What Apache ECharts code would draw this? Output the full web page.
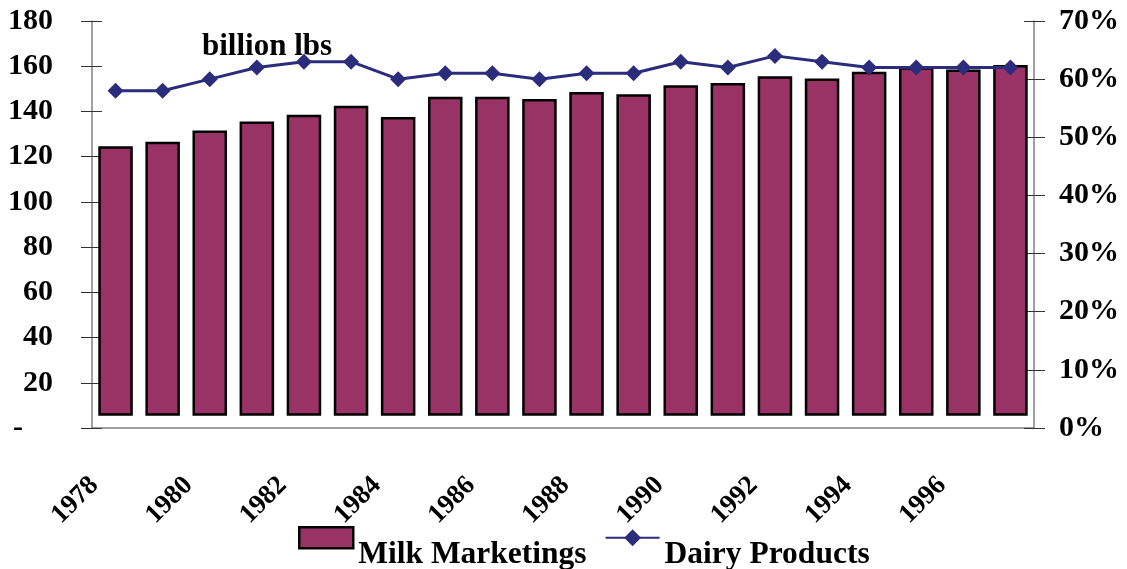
<!DOCTYPE html>
<html>
<head>
<meta charset="utf-8">
<script src="https://cdn.jsdelivr.net/npm/echarts@6/dist/echarts.min.js"></script>
<style>
  html, body { margin: 0; padding: 0; background: #fff; }
  #chart { width: 1127px; height: 569px; }
</style>
</head>
<body>
<div id="chart"></div>
<script>
// Years on the category axis
const years = ['1978','1979','1980','1981','1982','1983','1984','1985','1986','1987',
               '1988','1989','1990','1991','1992','1993','1994','1995','1996','1997'];
// Milk marketings, billion lbs (left axis)
const milkMarketings = [124, 126, 131, 135, 138, 142, 137, 146, 146, 145,
                        148, 147, 151, 152, 155, 154, 157, 159, 158, 160];
// Share used for dairy products, percent (right axis)
const dairyProducts = [58, 58, 60, 62, 63, 63, 60, 61, 61, 60,
                       61, 61, 63, 62, 64, 63, 62, 62, 62, 62];
// Axis tick settings
const leftTicks = { min: 0, max: 180, interval: 20 };
const rightTicks = { min: 0, max: 70, interval: 10 };

const FONT = '"Liberation Serif", "Times New Roman", serif';
const BAR_COLOR = '#993366';
const LINE_COLOR = '#2B2D7C';
const BAR_FLOOR = 6;       // bars rise from just above the category axis

const chart = echarts.init(document.getElementById('chart'), null, { renderer: 'canvas' });

const axisLabelBase = { color: '#000', fontFamily: FONT, fontWeight: 'bold', fontSize: 30 };
const legendText = { fontFamily: FONT, fontWeight: 'bold', fontSize: 31.5, color: '#000' };

chart.setOption({
  animation: false,
  backgroundColor: '#fff',
  title: {
    text: 'billion lbs',
    left: 197, top: 26,
    textStyle: { fontFamily: FONT, fontWeight: 'bold', fontSize: 31, color: '#000' }
  },
  grid: { left: 92, right: 93, top: 21, bottom: 141, containLabel: false },
  legend: {
    left: 293, top: 521,
    itemWidth: 54, itemHeight: 21, itemGap: 18,
    formatter: '{t|{name}}',
    textStyle: { ...legendText, rich: { t: { ...legendText, padding: [34, 0, 0, 0] } } },
    data: [
      { name: 'Milk Marketings', icon: 'rect', itemStyle: { color: BAR_COLOR, borderColor: '#000', borderWidth: 2.5 } },
      { name: 'Dairy Products' }
    ]
  },
  xAxis: {
    type: 'category',
    data: years,
    boundaryGap: true,
    axisLine: { lineStyle: { color: '#808080', width: 1.5 } },
    axisTick: { show: false },
    axisLabel: {
      interval: 1, rotate: 45, margin: 32,
      padding: [0, 30, 0, 0],
      color: '#000', fontFamily: FONT, fontWeight: 'bold', fontSize: 27
    },
    splitLine: { show: false }
  },
  yAxis: [
    {
      type: 'value', position: 'left', ...leftTicks,
      axisLine: { show: true, lineStyle: { color: '#808080', width: 1.5 } },
      axisTick: { show: true, length: 11, lineStyle: { color: '#333', width: 1 } },
      splitLine: { show: false },
      axisLabel: {
        ...axisLabelBase, margin: 39,
        formatter: v => v === 0 ? '{d|-}' : String(v),
        rich: { d: { ...axisLabelBase, padding: [0, 30, 0, 0] } }
      }
    },
    {
      type: 'value', position: 'right', ...rightTicks,
      axisLine: { show: true, lineStyle: { color: '#808080', width: 1.5 } },
      axisTick: { show: true, length: 11, lineStyle: { color: '#333', width: 1 } },
      splitLine: { show: false },
      axisLabel: { ...axisLabelBase, margin: 25, formatter: '{value}%' }
    },
    {
      // inner half of the left tick marks
      type: 'value', position: 'left', ...leftTicks,
      axisLine: { show: false },
      axisTick: { show: true, inside: true, length: 10, lineStyle: { color: '#333', width: 1 } },
      axisLabel: { show: false }, splitLine: { show: false }
    },
    {
      // inner half of the right tick marks
      type: 'value', position: 'right', ...rightTicks,
      axisLine: { show: false },
      axisTick: { show: true, inside: true, length: 10, lineStyle: { color: '#333', width: 1 } },
      axisLabel: { show: false }, splitLine: { show: false }
    }
  ],
  series: [
    {
      name: 'Milk Marketings',
      type: 'custom',
      yAxisIndex: 0,
      itemStyle: { color: BAR_COLOR },
      encode: { x: 0, y: 1 },
      data: milkMarketings.map((v, i) => [i, v]),
      renderItem: function (params, api) {
        const i = api.value(0);
        const v = api.value(1);
        const top = api.coord([i, v]);
        const base = api.coord([i, BAR_FLOOR]);
        const bw = api.size([1, 0])[0] * 0.68;
        return {
          type: 'rect',
          shape: { x: top[0] - bw / 2, y: top[1], width: bw, height: base[1] - top[1] },
          style: { fill: BAR_COLOR, stroke: '#000', lineWidth: 2.5 }
        };
      },
      z: 2
    },
    {
      name: 'Dairy Products',
      type: 'line',
      yAxisIndex: 1,
      data: dairyProducts,
      symbol: 'diamond',
      symbolSize: 16,
      itemStyle: { color: LINE_COLOR },
      lineStyle: { color: LINE_COLOR, width: 3 },
      z: 3
    }
  ]
});
</script>
</body>
</html>
